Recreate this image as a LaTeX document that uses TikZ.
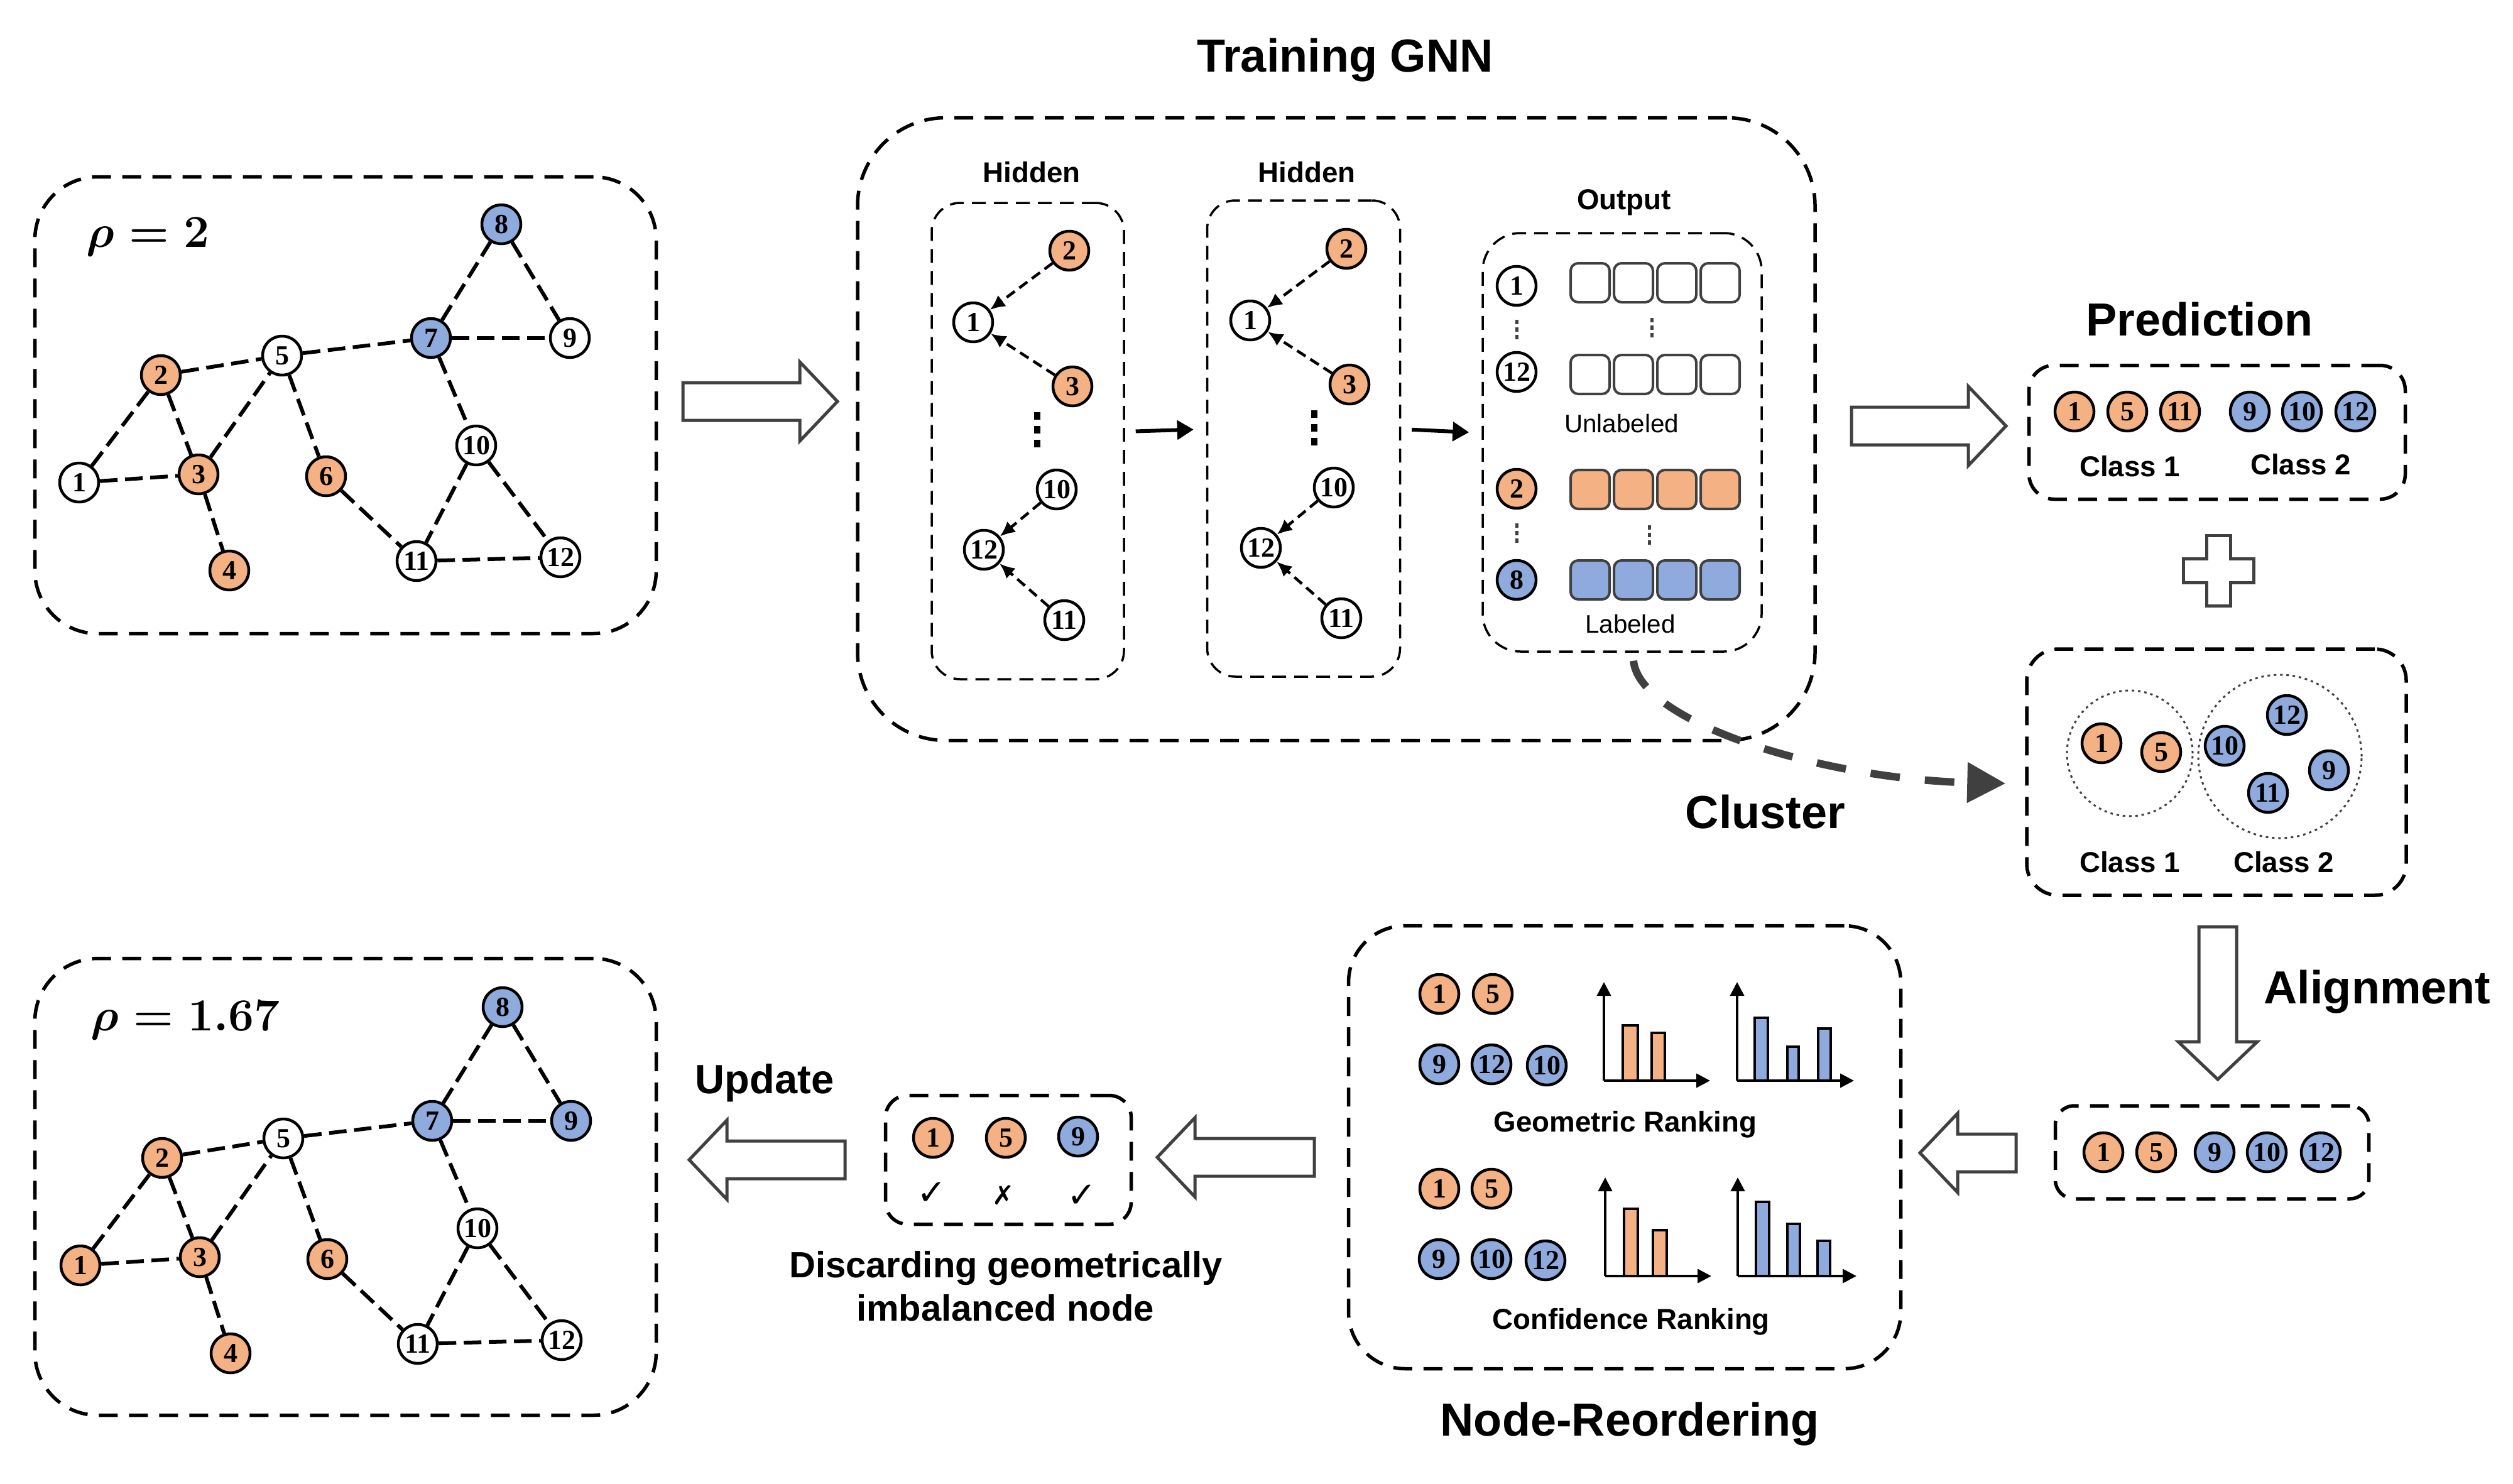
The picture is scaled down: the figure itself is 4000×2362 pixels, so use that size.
\documentclass[tikz,border=0pt]{standalone}
\usepackage[no-math]{fontspec}
\usepackage{amsmath,amssymb}
\setmainfont{Liberation Sans}
\newfontfamily\numfont{Liberation Serif}
\newfontfamily\symfont{DejaVu Sans}
\usetikzlibrary{arrows.meta, positioning, calc}

\definecolor{orng}{HTML}{F4B183}
\definecolor{blu}{HTML}{8FAADC}
\definecolor{drk}{HTML}{404040}

\tikzset{
  gnode/.style={circle, draw, line width=0.45mm, minimum size=6.2mm, inner sep=0pt,
    font=\numfont\bfseries\fontsize{12.5}{12.5}\selectfont},
  link/.style={line width=0.6mm, dash pattern=on 2.8mm off 1.2mm},
  msg/.style={line width=0.45mm, dash pattern=on 1.6mm off 0.9mm, -{Latex[length=2.4mm,width=2.2mm]}},
  flow/.style={line width=0.6mm, -{Triangle[length=2.6mm,width=3mm]}, shorten <=1.7mm, shorten >=2mm},
  panel/.style={draw, line width=0.55mm, dash pattern=on 3mm off 1.8mm, inner sep=0pt},
  subpanel/.style={draw, line width=0.35mm, dash pattern=on 2.2mm off 1.3mm, inner sep=0pt},
  cell/.style={draw=drk, line width=0.4mm, rounded corners=1.2mm, minimum size=6.2mm, inner sep=0pt},
  ring/.style={circle, draw=drk, line width=0.3mm, dash pattern=on 0.4mm off 0.6mm, inner sep=0pt},
  hollow/.style={draw=drk, line width=0.5mm, fill=white, line join=miter},
  axis/.style={line width=0.4mm, -{Triangle[length=2.2mm,width=2.2mm]}},
  bar/.style={draw, line width=0.35mm},
  ttl/.style={font=\bfseries\fontsize{21}{25}\selectfont, anchor=base, inner sep=0pt},
  sub/.style={font=\bfseries\fontsize{13}{15}\selectfont, anchor=base, inner sep=0pt},
  lbl/.style={font=\fontsize{11.5}{13}\selectfont, anchor=base, inner sep=0pt},
  pics/fatarrow/.style={code={
    \draw[hollow] (0,-30) -- (#1-60,-30) -- (#1-60,-63) -- (#1,0) -- (#1-60,63) -- (#1-60,30) -- (0,30) -- cycle;}}
}

\begin{document}
\begin{tikzpicture}[x=0.1mm, y=-0.1mm]
\useasboundingbox (0,0) rectangle (4000,2362);

% panels
\node[panel, rounded corners=10mm, minimum width=98.9mm, minimum height=72.7mm] (graphA) at (550,645) {};
\node[panel, rounded corners=10mm, minimum width=98.9mm, minimum height=72.7mm] (graphB) at (550,1889) {};
\node[panel, rounded corners=14mm, minimum width=152.4mm, minimum height=99.1mm] (gnn) at (2127,683) {};
\node[subpanel, rounded corners=4.5mm, minimum width=30.6mm, minimum height=75.8mm] (hidA) at (1636,702) {};
\node[subpanel, rounded corners=4.5mm, minimum width=30.7mm, minimum height=75.8mm] (hidB) at (2075,698) {};
\node[subpanel, rounded corners=6mm, minimum width=44.4mm, minimum height=66.6mm] (outb) at (2582,704) {};
\node[panel, rounded corners=4mm, minimum width=59.9mm, minimum height=21.3mm] (pred) at (3529,688) {};
\node[panel, rounded corners=5mm, minimum width=60.4mm, minimum height=39.2mm] (clus) at (3528,1229) {};
\node[panel, rounded corners=3mm, minimum width=49.9mm, minimum height=14.8mm] (algn) at (3521,1834) {};
\node[panel, rounded corners=9mm, minimum width=87.9mm, minimum height=70.5mm] (reord) at (2586,1826) {};
\node[panel, rounded corners=3.5mm, minimum width=39.1mm, minimum height=20.5mm] (disc) at (1605,1846) {};

% input graph
\node[ttl, anchor=base west] (rhoA) at (137,393) {{\boldmath$\rho = 2$}};
\foreach \n/\x/\y/\c in {1/126/768/white, 2/256/597/orng, 3/316/755/orng, 4/365/908/orng,
    5/449/566/white, 6/519/758/orng, 7/686/538/blu, 8/798/357/blu, 9/907/538/white,
    10/758/709/white, 11/663/893/white, 12/892/887/white}
  \node[gnode, fill=\c] (a\n) at (\x,\y) {\n};
\foreach \p/\q in {1/2,1/3,2/3,2/5,3/5,3/4,5/6,5/7,6/11,7/8,7/9,8/9,7/10,10/11,10/12,11/12}
  \draw[link] (a\p) -- (a\q);

% updated graph
\node[ttl, anchor=base west] (rhoB) at (144,1640) {{\boldmath$\rho = 1.67$}};
\foreach \n/\x/\y/\c in {1/126/768/orng, 2/256/597/orng, 3/316/755/orng, 4/365/908/orng,
    5/449/566/white, 6/519/758/orng, 7/686/538/blu, 8/798/357/blu, 9/907/538/blu,
    10/758/709/white, 11/663/893/white, 12/892/887/white}
  \node[gnode, fill=\c] (b\n) at (\x+2,\y+1246) {\n};
\foreach \p/\q in {1/2,1/3,2/3,2/5,3/5,3/4,5/6,5/7,6/11,7/8,7/9,8/9,7/10,10/11,10/12,11/12}
  \draw[link] (b\p) -- (b\q);

\pic at (1087,639) {fatarrow=246};

% training GNN
\node[ttl] (gnnt) at (2141,115) {Training GNN};
\node[sub] (hidtA) at (1642,291) {Hidden};
\node[sub] (hidtB) at (2080,291) {Hidden};
\node[sub] (outt) at (2585,333) {Output};
\foreach \s/\dx/\dy in {p/0/0, q/441/-3} {
  \foreach \n/\x/\y/\c in {2/1702/399/orng, 1/1549/513/white, 3/1707/615/orng,
      10/1682/779/white, 12/1566/875/white, 11/1694/987/white}
    \node[gnode, fill=\c] (\s\n) at (\x+\dx,\y+\dy) {\n};
  \foreach \u/\v in {2/1, 3/1, 10/12, 11/12}
    \draw[msg] (\s\u) -- (\s\v);
  \foreach \d in {0,1,2}
    \fill (1646+\dx,656+\dy+\d*22) rectangle ++(10,12);
}
\draw[flow] ([yshift=1.5mm]hidA.east) -- ([yshift=1.5mm]hidB.west);
\draw[flow] ([yshift=1.5mm]hidB.east) -- ([yshift=1.5mm]outb.west);

\node[gnode, fill=white] (o1) at (2414,455) {1};
\node[gnode, fill=white] (o12) at (2414,592) {12};
\node[gnode, fill=orng] (o2) at (2414,778) {2};
\node[gnode, fill=blu] (o8) at (2414,923) {8};
\foreach \rw/\y/\c in {u/450/white, v/596/white, w/779/orng, z/923/blu}
  \foreach \i in {0,...,3}
    \node[cell, fill=\c] (\rw\i) at (2531+\i*69,\y) {};
\foreach \x/\y in {2414/512, 2629/509, 2414/836, 2625/839}
  \foreach \d in {0,1,2}
    \fill[drk] (\x-2.5,\y+\d*12-3) rectangle ++(5,7);
\node[lbl] (unl) at (2581,688) {Unlabeled};
\node[lbl] (lab) at (2595,1007) {Labeled};

% cluster
\draw[drk, line width=1.2mm, dash pattern=on 4.7mm off 4mm, -{Triangle[length=6.1mm,width=6.2mm]}]
  ([xshift=1.8mm,yshift=-1.3mm]outb.south) .. controls (2610,1150) and (2900,1240) .. ([xshift=-3.1mm,yshift=-1.8mm]clus.west);
\node[ttl] (clut) at (2810,1318) {Cluster};

% prediction
\pic at (2947,678) {fatarrow=246};
\node[ttl] (predt) at (3501,534) {Prediction};
\foreach \n/\x/\c in {1/3302/orng, 5/3386/orng, 11/3470/orng, 9/3581/blu, 10/3664/blu, 12/3749/blu}
  \node[gnode, fill=\c] (r\n) at (\x,655) {\n};
\node[sub] (predc1) at (3390,758) {Class 1};
\node[sub] (predc2) at (3662,755) {Class 2};

\draw[hollow] (3512,852) -- ++(38,0) -- ++(0,37) -- ++(37,0) -- ++(0,38) -- ++(-37,0) -- ++(0,37)
  -- ++(-38,0) -- ++(0,-37) -- ++(-37,0) -- ++(0,-38) -- ++(37,0) -- cycle;

\node[ring, minimum size=20mm] (ringA) at (3390,1199) {};
\node[ring, minimum size=26mm] (ringB) at (3629,1204) {};
\foreach \n/\x/\y/\c in {1/3345/1183/orng, 5/3440/1197/orng, 10/3541/1187/blu,
    12/3640/1138/blu, 9/3707/1226/blu, 11/3610/1262/blu}
  \node[gnode, fill=\c] (c\n) at (\x,\y) {\n};
\node[sub] (cluc1) at (3390,1388) {Class 1};
\node[sub] (cluc2) at (3635,1388) {Class 2};

% alignment
\pic[rotate=-90] at (3530,1475) {fatarrow=243};
\node[ttl] (algt) at (3784,1597) {Alignment};
\foreach \n/\x/\c in {1/3348/orng, 5/3432/orng, 9/3525/blu, 10/3608/blu, 12/3694/blu}
  \node[gnode, fill=\c] (l\n) at (\x,1834) {\n};
\pic[rotate=180] at (3209,1835) {fatarrow=153};

% node reordering
\foreach \n/\x/\y/\c in {1/2291/1582/orng, 5/2376/1582/orng, 9/2291/1694/blu, 12/2374/1694/blu, 10/2462/1696/blu}
  \node[gnode, fill=\c] (g\n) at (\x,\y) {\n};
\foreach \n/\x/\y/\c in {1/2291/1892/orng, 5/2374/1892/orng, 9/2290/2004/blu, 10/2374/2004/blu, 12/2460/2006/blu}
  \node[gnode, fill=\c] (k\n) at (\x,\y) {\n};
\foreach \a/\b/\bt/\t/\c in {2583/2607/1720/1632/orng, 2629/2650/1720/1644/orng,
    2793/2814/1720/1620/blu, 2845/2863/1720/1666/blu, 2894/2914/1720/1637/blu,
    2585/2607/2031/1924/orng, 2631/2653/2031/1958/orng,
    2795/2816/2031/1913/blu, 2845/2865/2031/1948/blu, 2893/2913/2031/1975/blu}
  \draw[bar, fill=\c] (\a,\bt) rectangle (\b,\t);
\foreach \ox/\oy/\len in {2553/1720/169, 2765/1720/186, 2555/2031/169, 2766/2031/189} {
  \draw[axis] (\ox,\oy) -- (\ox,\oy-157);
  \draw[axis] (\ox,\oy) -- (\ox+\len,\oy);
}
\node[sub] (geot) at (2587,1801) {Geometric Ranking};
\node[sub] (conft) at (2596,2115) {Confidence Ranking};
\node[ttl] (reot) at (2594,2285) {Node-Reordering};
\pic[rotate=180] at (2092,1842) {fatarrow=250};

% discarding
\node[gnode, fill=orng] (d1) at (1485,1811) {1};
\node[gnode, fill=orng] (d5) at (1601,1811) {5};
\node[gnode, fill=blu] (d9) at (1716,1809) {9};
\node[font=\symfont\fontsize{16}{16}\selectfont, inner sep=0pt] (ok1) at (1483,1900) {✓};
\node[font=\symfont\bfseries\fontsize{12}{12}\selectfont, inner sep=0pt] (no5) at (1597,1902) {✗};
\node[font=\symfont\fontsize{16}{16}\selectfont, inner sep=0pt] (ok9) at (1722,1904) {✓};
\node[font=\bfseries\fontsize{16.5}{19}\selectfont, anchor=base, inner sep=0pt] (disct1) at (1601,2033) {Discarding geometrically};
\node[font=\bfseries\fontsize{16.5}{19}\selectfont, anchor=base, inner sep=0pt] (disct2) at (1600,2102) {imbalanced node};

% update
\pic[rotate=180] at (1345,1846) {fatarrow=248};
\node[font=\bfseries\fontsize{18.5}{22}\selectfont, anchor=base, inner sep=0pt] (updt) at (1217,1740) {Update};
\end{tikzpicture}
\end{document}
